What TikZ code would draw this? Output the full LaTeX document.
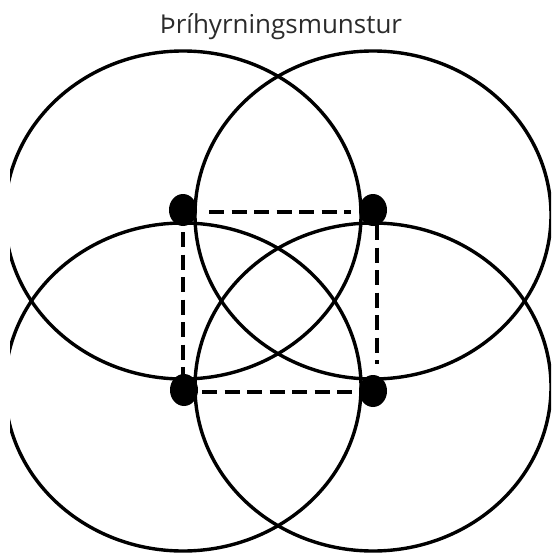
\documentclass[tikz,border=0pt]{standalone}
\usepackage{fontspec}
\setmainfont{Open Sans}
\usetikzlibrary{shapes.geometric}
\definecolor{titlegray}{HTML}{2B2B2B}
\begin{document}
\begin{tikzpicture}[x=1pt,y=-1pt,
  ring/.style={draw=black, line width=3.4pt, ellipse, minimum width=356pt, minimum height=328pt, inner sep=0pt},
  dotnode/.style={fill=black, ellipse, minimum width=28pt, minimum height=32pt, inner sep=0pt},
  dashline/.style={line width=3.4pt, dash pattern=on 15pt off 7.5pt}]
\useasboundingbox (0,0) rectangle (551,556);
\node[text=titlegray, font=\fontsize{26}{30}\selectfont, inner sep=0pt] (title) at (281,27) {Þríhyrningsmunstur};
% dots
\node[dotnode] (d1) at (183,210) {};
\node[dotnode] (d2) at (373,210) {};
\node[dotnode] (d3) at (184,390) {};
\node[dotnode] (d4) at (373,391) {};
% dashed frame
\coordinate (t1) at (209,212); \coordinate (t2) at (351,212);
\coordinate (r1) at (377,225); \coordinate (r2) at (377,364);
\coordinate (l1) at (183,232); \coordinate (l2) at (183,380);
\coordinate (b1) at (202,392); \coordinate (b2) at (358,392);
\draw[dashline] (t1) -- (t2);
\draw[dashline] (r1) -- (r2);
\draw[dashline] (l1) -- (l2);
\draw[dashline] (b1) -- (b2);
% rings
\begin{scope}
\clip (10,0) rectangle (551,556);
\node[ring] (c1) at (183,215) {};
\node[ring] (c2) at (373,215) {};
\node[ring] (c3) at (183,387) {};
\node[ring] (c4) at (373,387) {};
\end{scope}
\end{tikzpicture}
\end{document}
